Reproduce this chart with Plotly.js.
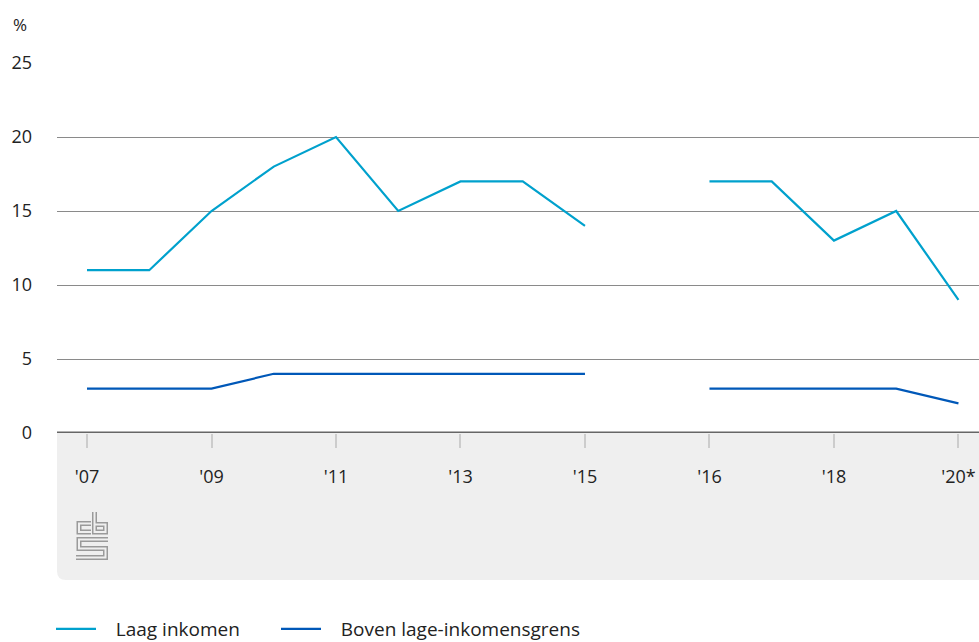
<!DOCTYPE html>
<html>
<head>
<meta charset="utf-8">
<script src="https://cdn.plot.ly/plotly-3.0.1.min.js"></script>
<style>html,body{margin:0;padding:0;background:#fff;}#chart{width:979px;height:642px;}</style>
</head>
<body>
<div id="chart"></div>
<script>
// Categories (blank slot marks the break between 2015 and 2016)
var categories = ["'07","'08","'09","'10","'11","'12","'13","'14","'15"," ","'16","'17","'18","'19","'20*"];
var tickLabels = ["'07","'09","'11","'13","'15","'16","'18","'20*"];
var laagInkomen = [11,11,15,18,20,15,17,17,14,null,17,17,13,15,9];
var bovenGrens  = [3,3,3,4,4,4,4,4,4,null,3,3,3,3,2];
var seriesNames = ["Laag inkomen","Boven lage-inkomensgrens"];
var yTicks = [0,5,10,15,20,25];

var W = 979, H = 642;
var mL = 57, mR = 0, mT = 63, mB = 209;
var pw = W - mL - mR, ph = H - mT - mB;
function px(x){ return (x - mL) / pw; }
function py(y){ return (H - mB - y) / ph; }

var FONT = "Open Sans, sans-serif";
var TXT = '#222';
var bg = '#efefef';
var PAD = '\u00a0\u00a0\u00a0';

// decorative grey band under axis with rounded bottom-left corner
var r = 9;
var bandPath = 'M' + px(57) + ',' + py(433) +
  ' L' + px(979) + ',' + py(433) +
  ' L' + px(979) + ',' + py(580) +
  ' L' + px(57 + r) + ',' + py(580) +
  ' Q' + px(57) + ',' + py(580) + ' ' + px(57) + ',' + py(580 - r) + ' Z';

// logo (decorative)
function pathFrom(pts){
  return pts.map(function(p,i){ return (i? 'L':'M') + px(p[0]) + ',' + py(p[1]); }).join(' ');
}
var logoPaths = [
  [[91,523.5],[79,523.5],[79,532],[91,532]],
  [[94.5,512],[94.5,532],[105.5,532],[105.5,524.5],[94.5,524.5]],
  [[108,539.5],[79,539.5],[79,548.5],[105.5,548.5],[105.5,557.5],[76,557.5]]
];
var shapes = [{type:'path', xref:'paper', yref:'paper', path: bandPath, fillcolor:bg, line:{width:0}, layer:'below'}];
logoPaths.forEach(function(p){
  shapes.push({type:'path', xref:'paper', yref:'paper', path:pathFrom(p), line:{color:'#9a9a9a', width:5}, layer:'above'});
});
logoPaths.forEach(function(p){
  shapes.push({type:'path', xref:'paper', yref:'paper', path:pathFrom(p), line:{color:bg, width:2}, layer:'above'});
});
// baseline at zero
shapes.push({type:'line', xref:'paper', x0:0, x1:1, yref:'y', y0:0, y1:0, line:{color:'#666666', width:3}, layer:'above'});

var traces = [
  {x:categories, y:laagInkomen, name:PAD + seriesNames[0], type:'scatter', mode:'lines',
   line:{color:'#00a1cd', width:2.2}, connectgaps:false, legend:'legend'},
  {x:categories, y:bovenGrens, name:PAD + seriesNames[1], type:'scatter', mode:'lines',
   line:{color:'#0058b8', width:2.2}, connectgaps:false, legend:'legend2'}
];

var legendBase = {orientation:'h', xanchor:'left', y:py(610), yanchor:'top',
   font:{family:FONT, size:19, color:TXT}, itemwidth:40, bgcolor:'rgba(0,0,0,0)'};

var layout = {
  width:W, height:H,
  margin:{l:mL, r:mR, t:mT, b:mB, pad:0, autoexpand:false},
  paper_bgcolor:'#fff', plot_bgcolor:'rgba(0,0,0,0)',
  font:{family:FONT, size:18, color:TXT},
  showlegend:true,
  legend:Object.assign({}, legendBase, {x:px(51)}),
  legend2:Object.assign({}, legendBase, {x:px(276)}),
  xaxis:{type:'category', categoryorder:'array', categoryarray:categories,
         range:[-0.482, 14.33], tickmode:'array', tickvals:tickLabels, ticktext:tickLabels,
         showgrid:false, zeroline:false, showline:false,
         ticks:'outside', ticklen:14, tickwidth:2, tickcolor:'#cccccc',
         ticklabelstandoff:13, tickfont:{family:FONT, size:18, color:TXT}, fixedrange:true},
  yaxis:{range:[0,25], tickmode:'array', tickvals:yTicks, ticktext:yTicks.map(String),
         showgrid:true, gridcolor:'#8a8a8a', gridwidth:1, zeroline:false, showline:false,
         ticks:'', ticklabelstandoff:24, tickfont:{family:FONT, size:18, color:TXT}, fixedrange:true},
  shapes:shapes,
  annotations:[{text:'%', xref:'paper', yref:'paper', x:px(11), y:py(25), xanchor:'left', yanchor:'middle',
                showarrow:false, font:{family:FONT, size:17, color:TXT}}]
};

Plotly.newPlot('chart', traces, layout, {displayModeBar:false, staticPlot:true});
</script>
</body>
</html>
